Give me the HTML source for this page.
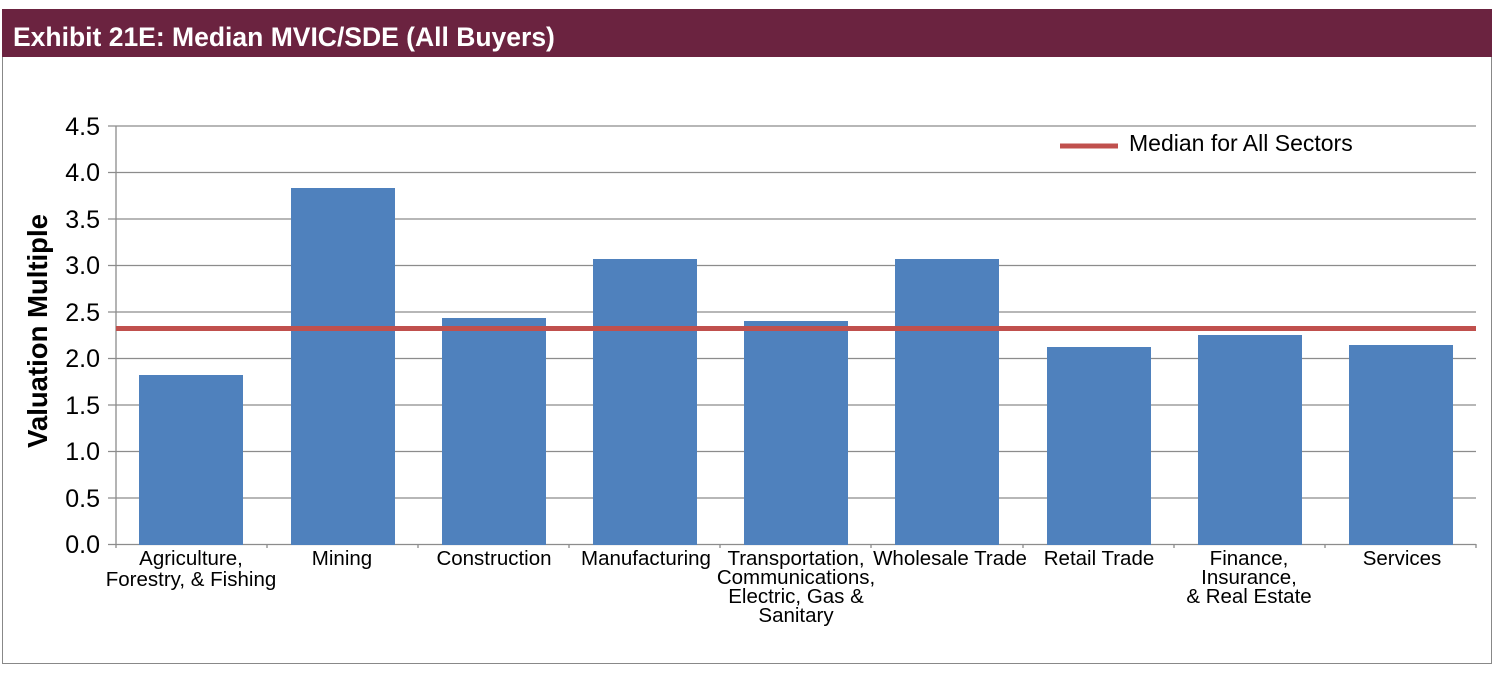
<!DOCTYPE html>
<html><head><style>body{margin:0;background:#fff}svg{display:block}</style></head><body>
<svg width="1494" height="685" xmlns="http://www.w3.org/2000/svg" font-family="Liberation Sans, Arial, sans-serif">
<rect x="2.5" y="9.5" width="1489" height="654" fill="#fff" stroke="#888" stroke-width="1"/>
<rect x="2" y="9" width="1490" height="48" fill="#6b2340"/>
<text x="13" y="46" fill="#fff" font-size="26.5" font-weight="bold">Exhibit 21E: Median MVIC/SDE (All Buyers)</text>
<g stroke="#8c8c8c" stroke-width="1.3">
<line x1="108" y1="126" x2="1476" y2="126"/><line x1="108" y1="172.5" x2="1476" y2="172.5"/>
<line x1="108" y1="219" x2="1476" y2="219"/><line x1="108" y1="265.5" x2="1476" y2="265.5"/>
<line x1="108" y1="312" x2="1476" y2="312"/><line x1="108" y1="358.5" x2="1476" y2="358.5"/>
<line x1="108" y1="405" x2="1476" y2="405"/><line x1="108" y1="451.5" x2="1476" y2="451.5"/>
<line x1="108" y1="498" x2="1476" y2="498"/><line x1="108" y1="544.5" x2="1476" y2="544.5"/>
<line x1="116" y1="126" x2="116" y2="548"/>
<line x1="267" y1="544" x2="267" y2="548"/><line x1="418" y1="544" x2="418" y2="548"/><line x1="569" y1="544" x2="569" y2="548"/><line x1="720" y1="544" x2="720" y2="548"/><line x1="871" y1="544" x2="871" y2="548"/><line x1="1023" y1="544" x2="1023" y2="548"/><line x1="1174" y1="544" x2="1174" y2="548"/><line x1="1325" y1="544" x2="1325" y2="548"/><line x1="1476" y1="544" x2="1476" y2="548"/>
</g>
<g font-size="25" fill="#000" text-anchor="end">
<text x="100" y="135">4.5</text><text x="100" y="181">4.0</text><text x="100" y="228">3.5</text><text x="100" y="274">3.0</text><text x="100" y="321">2.5</text><text x="100" y="367">2.0</text><text x="100" y="414">1.5</text><text x="100" y="460">1.0</text><text x="100" y="507">0.5</text><text x="100" y="553">0.0</text>
</g>
<text transform="translate(47,331) rotate(-90)" font-size="27.5" font-weight="bold" text-anchor="middle">Valuation Multiple</text>
<g fill="#4f81bd">
<rect x="139" y="375" width="104" height="170"/>
<rect x="291" y="188" width="104" height="357"/>
<rect x="442" y="318" width="104" height="227"/>
<rect x="593" y="259" width="104" height="286"/>
<rect x="744" y="321" width="104" height="224"/>
<rect x="895" y="259" width="104" height="286"/>
<rect x="1047" y="347" width="104" height="198"/>
<rect x="1198" y="335" width="104" height="210"/>
<rect x="1349" y="345" width="104" height="200"/>
</g>
<line x1="116" y1="328.5" x2="1476" y2="328.5" stroke="#c0504d" stroke-width="5"/>
<line x1="1060" y1="146" x2="1118" y2="146" stroke="#c0504d" stroke-width="5"/>
<text x="1129" y="151" font-size="23">Median for All Sectors</text>
<g font-size="20.5" text-anchor="middle">
<text x="191" y="565">Agriculture,</text><text x="191" y="586">Forestry, &amp; Fishing</text>
<text x="342" y="565">Mining</text>
<text x="494" y="565">Construction</text>
<text x="646" y="565">Manufacturing</text>
<text x="796" y="565">Transportation,</text><text x="796" y="584">Communications,</text><text x="796" y="603">Electric, Gas &amp;</text><text x="796" y="622">Sanitary</text>
<text x="950" y="565">Wholesale Trade</text>
<text x="1099" y="565">Retail Trade</text>
<text x="1249" y="565">Finance,</text><text x="1249" y="584">Insurance,</text><text x="1249" y="603">&amp; Real Estate</text>
<text x="1402" y="565">Services</text>
</g>
</svg>
</body></html>
